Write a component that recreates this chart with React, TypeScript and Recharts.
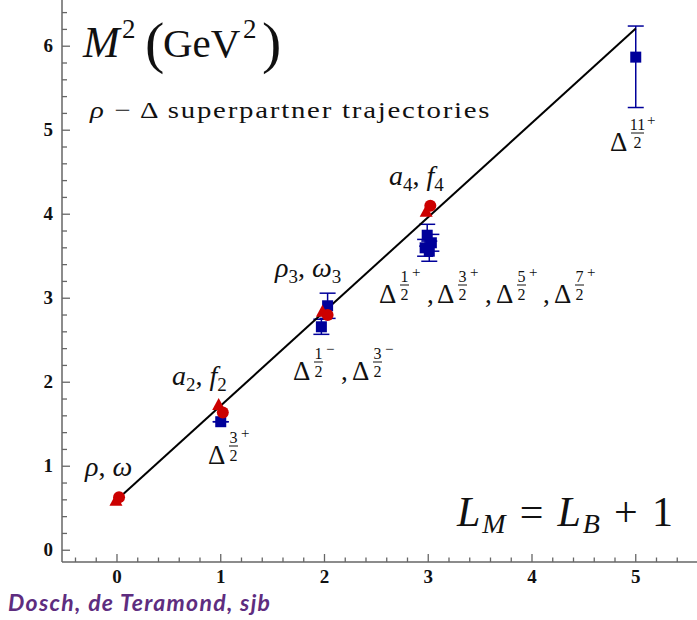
import React from "react";
import { ComposedChart, XAxis, YAxis, Line, Scatter, ErrorBar } from "recharts";

// fitted trajectory M^2 vs L
const trajectoryL = [0, 5];
const trajectoryM2 = [0.6, 6.21];

// mesons (red)
const triangleL = [-0.01, 0.98, 1.98, 2.98];
const triangleM2 = [0.59, 1.73, 2.84, 4.03];
const circleL = [0.02, 1.02, 2.03, 3.02];
const circleM2 = [0.63, 1.64, 2.8, 4.1];

// baryons (blue) with errors
const deltaL = [1.0, 1.97, 2.03, 2.99, 3.03, 2.97, 3.01, 5.0];
const deltaM2 = [1.53, 2.66, 2.91, 3.75, 3.66, 3.6, 3.56, 5.87];
const deltaErrLow = [0, 0.09, 0.15, 0.13, 0.1, 0.1, 0.12, 0.6];
const deltaErrHigh = [0, 0.09, 0.15, 0.13, 0.1, 0.1, 0.12, 0.37];

const xTicks = [
  -0.4, -0.2, 0, 0.2, 0.4, 0.6, 0.8, 1, 1.2, 1.4, 1.6, 1.8, 2, 2.2, 2.4, 2.6,
  2.8, 3, 3.2, 3.4, 3.6, 3.8, 4, 4.2, 4.4, 4.6, 4.8, 5, 5.2, 5.4,
];
const yTicks = [
  0, 0.2, 0.4, 0.6, 0.8, 1, 1.2, 1.4, 1.6, 1.8, 2, 2.2, 2.4, 2.6, 2.8, 3, 3.2,
  3.4, 3.6, 3.8, 4, 4.2, 4.4, 4.6, 4.8, 5, 5.2, 5.4, 5.6, 5.8, 6, 6.2, 6.4,
];
const xLabels = [0, 1, 2, 3, 4, 5];
const yLabels = [0, 1, 2, 3, 4, 5, 6];

const trajectory = trajectoryL.map((x, i) => ({ x, y: trajectoryM2[i] }));
const triangles = triangleL.map((x, i) => ({ x, y: triangleM2[i] }));
const circles = circleL.map((x, i) => ({ x, y: circleM2[i] }));
const deltas = deltaL.map((x, i) => ({
  x,
  y: deltaM2[i],
  err: [deltaErrLow[i], deltaErrHigh[i]],
}));

const RED = "#cc0000";
const BLUE = "#00009a";
const AXIS = "#666";
const SERIF = "Liberation Serif, Times New Roman, serif";
const serif = { fontFamily: SERIF };

const isMajor = (v: number, list: number[]) =>
  list.some((m) => Math.abs(m - v) < 1e-6);

const XTick = (props: any) => {
  const { x, y, payload } = props;
  const major = isMajor(payload.value, xLabels);
  return (
    <g>
      <line x1={x} x2={x} y1={y} y2={y - (major ? 8 : 4.5)} stroke={AXIS} strokeWidth={1.3} />
      {major && (
        <text x={x} y={y + 21} textAnchor="middle" style={serif} fontWeight="bold" fontSize={19} fill="#111">
          {payload.value}
        </text>
      )}
    </g>
  );
};

const YTick = (props: any) => {
  const { x, y, payload } = props;
  const major = isMajor(payload.value, yLabels);
  return (
    <g>
      <line x1={x} x2={x + (major ? 8 : 5)} y1={y} y2={y} stroke={AXIS} strokeWidth={1.3} />
      {major && (
        <text x={x - 9} y={y + 6} textAnchor="end" style={serif} fontWeight="bold" fontSize={19} fill="#111">
          {payload.value}
        </text>
      )}
    </g>
  );
};

const RightTick = (props: any) => {
  const { x, y } = props;
  return <line x1={x - 3} x2={x} y1={y} y2={y} stroke={AXIS} strokeWidth={1.3} />;
};

const Square = (props: any) => (
  <rect x={props.cx - 5.5} y={props.cy - 5.5} width={11} height={11} fill={BLUE} />
);
const Tri = (props: any) => (
  <polygon
    points={`${props.cx},${props.cy - 7} ${props.cx - 6.5},${props.cy + 5} ${props.cx + 6.5},${props.cy + 5}`}
    fill={RED}
  />
);
const Dot = (props: any) => <circle cx={props.cx} cy={props.cy} r={6} fill={RED} />;

function DeltaLabel({ x, y, num, sign }: { x: number; y: number; num: string; sign: string }) {
  const fw = num.length > 1 ? 13 : 9;
  const fx = x + 21;
  return (
    <g style={serif} fill="#111">
      <text x={x} y={y} fontSize={27}>Δ</text>
      <text x={fx + fw / 2} y={y - 21} fontSize={16} textAnchor="middle">{num}</text>
      <line x1={fx} x2={fx + fw} y1={y - 18} y2={y - 18} stroke="#111" strokeWidth={1} />
      <text x={fx + fw / 2} y={y - 3} fontSize={16} textAnchor="middle">2</text>
      <text x={fx + fw + 3} y={y - 26} fontSize={15}>{sign}</text>
    </g>
  );
}

function PairLabel({ x, y, a, b, sub }: { x: number; y: number; a: string; b: string; sub?: string }) {
  return (
    <text x={x} y={y} style={serif} fontSize={28} fill="#111">
      <tspan fontStyle="italic">{a}</tspan>
      {sub && <tspan fontSize={19} dy={6}>{sub}</tspan>}
      <tspan dy={sub ? -6 : 0}>, </tspan>
      <tspan fontStyle="italic">{b}</tspan>
      {sub && <tspan fontSize={19} dy={6}>{sub}</tspan>}
    </text>
  );
}

function Annotations() {
  return (
    <svg width={697} height={620} style={{ position: "absolute", left: 0, top: 0, pointerEvents: "none" }}>
      <g style={serif} fill="#111">
        <text x={83} y={57} fontSize={44} fontStyle="italic">M</text>
        <text x={122} y={38} fontSize={27}>2</text>
        <text x={145} y={62} fontSize={58}>(</text>
        <text x={163} y={57} fontSize={41}>GeV</text>
        <text x={243} y={38} fontSize={27}>2</text>
        <text x={262} y={62} fontSize={58}>)</text>
        <g transform="translate(90,118) scale(1.2,1)">
          <text x={0} y={0} fontSize={24} textLength={333} lengthAdjust="spacing">
            <tspan fontStyle="italic">ρ</tspan> − Δ superpartner trajectories
          </text>
        </g>
        <text x={457} y={526} fontSize={42} textLength={216} lengthAdjust="spacing">
          <tspan fontStyle="italic">L</tspan>
          <tspan fontStyle="italic" fontSize={28} dy={7}>M</tspan>
          <tspan dy={-7}> = </tspan>
          <tspan fontStyle="italic">L</tspan>
          <tspan fontStyle="italic" fontSize={28} dy={7}>B</tspan>
          <tspan dy={-7}> + 1</tspan>
        </text>
      </g>
      <PairLabel x={85} y={476} a="ρ" b="ω" />
      <PairLabel x={172} y={385} a="a" b="f" sub="2" />
      <PairLabel x={275} y={277} a="ρ" b="ω" sub="3" />
      <PairLabel x={389} y={185} a="a" b="f" sub="4" />

      <DeltaLabel x={208} y={464} num="3" sign="+" />
      <DeltaLabel x={293} y={380} num="1" sign="−" />
      <text x={341} y={380} style={serif} fontSize={27} fill="#111">,</text>
      <DeltaLabel x={352} y={380} num="3" sign="−" />
      <DeltaLabel x={379} y={303} num="1" sign="+" />
      <text x={427} y={303} style={serif} fontSize={27} fill="#111">,</text>
      <DeltaLabel x={437} y={303} num="3" sign="+" />
      <text x={485} y={303} style={serif} fontSize={27} fill="#111">,</text>
      <DeltaLabel x={496} y={303} num="5" sign="+" />
      <text x={543} y={303} style={serif} fontSize={27} fill="#111">,</text>
      <DeltaLabel x={554} y={303} num="7" sign="+" />
      <DeltaLabel x={610} y={151} num="11" sign="+" />

      <text
        x={8}
        y={611}
        style={{ fontFamily: "Lato, Open Sans, sans-serif" }}
        fontWeight="bold"
        fontStyle="italic"
        fontSize={23}
        fill="#5e2d7f"
        textLength={262}
        lengthAdjust="spacing"
      >
        Dosch, de Teramond, sjb
      </text>
    </svg>
  );
}

export default function App() {
  return (
    <div style={{ position: "absolute", left: 0, top: 0, width: 697, height: 620, overflow: "hidden", background: "#fff" }}>
      <ComposedChart width={700} height={620} margin={{ top: 0, right: 2, bottom: 0, left: 0 }}>
        <XAxis
          dataKey="x"
          type="number"
          domain={[-0.53, 5.6]}
          allowDataOverflow
          ticks={xTicks}
          interval={0}
          tickSize={0}
          tickMargin={0}
          tick={<XTick />}
          height={58}
          axisLine={{ stroke: AXIS, strokeWidth: 1.5 }}
        />
        <YAxis
          type="number"
          domain={[-0.14, 6.55]}
          allowDataOverflow
          ticks={yTicks}
          interval={0}
          tickSize={0}
          tickMargin={0}
          tick={<YTick />}
          width={62}
          axisLine={{ stroke: AXIS, strokeWidth: 1.5 }}
        />
        <YAxis
          yAxisId="right"
          orientation="right"
          type="number"
          domain={[-0.14, 6.55]}
          allowDataOverflow
          ticks={yLabels}
          interval={0}
          tickSize={0}
          tickMargin={0}
          tick={<RightTick />}
          width={0}
          axisLine={{ stroke: AXIS, strokeWidth: 1.5 }}
        />
        <Scatter data={deltas} dataKey="y" shape={<Square />} isAnimationActive={false}>
          <ErrorBar dataKey="err" direction="y" width={8} stroke={BLUE} strokeWidth={1.5} />
        </Scatter>
        <Scatter data={triangles} dataKey="y" shape={<Tri />} isAnimationActive={false} />
        <Scatter data={circles} dataKey="y" shape={<Dot />} isAnimationActive={false} />
        <Line data={trajectory} dataKey="y" type="linear" stroke="#000" strokeWidth={2} dot={false} isAnimationActive={false} />
      </ComposedChart>
      <Annotations />
    </div>
  );
}
